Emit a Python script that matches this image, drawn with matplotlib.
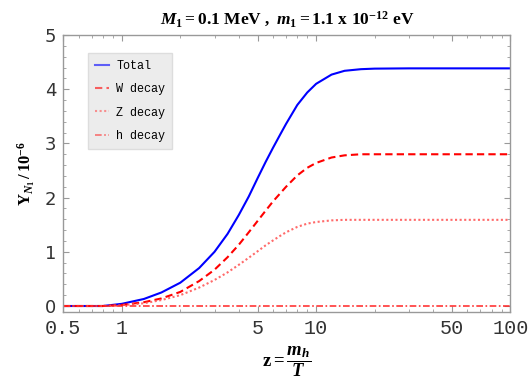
import numpy as np
import matplotlib
matplotlib.use("Agg")
import matplotlib.pyplot as plt
from matplotlib.ticker import FixedLocator, LogLocator, MultipleLocator, NullFormatter

# === DONNÉES ===
z = [0.5, 0.8, 1.0, 1.3, 1.6, 2.0, 2.5, 3.0, 3.5, 4.0, 4.5, 5.0, 5.5,
     6.0, 6.5, 7.0, 8.0, 9.0, 10, 12, 14, 17, 20, 30, 50, 100]
y_total = [0.0, 0.0, 0.04, 0.13, 0.25, 0.43, 0.70, 1.00, 1.33, 1.68, 2.02, 2.36, 2.66,
           2.92, 3.15, 3.36, 3.71, 3.94, 4.10, 4.27, 4.34, 4.37, 4.38, 4.385, 4.385, 4.385]
y_W = [0.0, 0.0, 0.02, 0.07, 0.14, 0.26, 0.46, 0.67, 0.90, 1.13, 1.36, 1.57, 1.76,
       1.93, 2.07, 2.20, 2.41, 2.55, 2.64, 2.74, 2.78, 2.80, 2.80, 2.80, 2.80, 2.80]
y_Z = [0.0, 0.0, 0.015, 0.05, 0.11, 0.20, 0.34, 0.48, 0.62, 0.76, 0.89, 1.01, 1.12,
       1.21, 1.29, 1.36, 1.46, 1.52, 1.55, 1.58, 1.59, 1.59, 1.59, 1.59, 1.59, 1.59]
y_h = [0.003] * len(z)

xticks = [0.5, 1, 5, 10, 50, 100]
xtick_labels = ["0.5", "1", "5", "10", "50", "100"]

# === STYLE ===
plt.rcParams["mathtext.fontset"] = "custom"
plt.rcParams["mathtext.rm"] = "Liberation Serif:bold"
plt.rcParams["mathtext.it"] = "Liberation Serif:italic:bold"
plt.rcParams["mathtext.bf"] = "Liberation Serif:bold"

fig = plt.figure(figsize=(5.3, 3.85), dpi=100)
ax = fig.add_axes([0.1194, 0.1904, 0.9632 - 0.1194, 0.909 - 0.1904])

ax.plot(z, y_total, color="#0000ff", lw=1.5, label="Total")
ax.plot(z, y_W, color="#ff0000", lw=1.5, ls=(0, (3.5, 2)), label="W decay")
ax.plot(z, y_Z, color="#ff5050", lw=1.5, ls=(0, (1, 1.2)), alpha=0.85, label="Z decay")
ax.plot(z, y_h, color="#ff2020", lw=1.2, ls=(0, (4, 1.5, 1, 1.5)), alpha=0.9, label="h decay")

ax.set_xscale("log")
ax.set_xlim(0.5, 100)
ax.set_ylim(-0.105, 5)

ax.xaxis.set_major_locator(FixedLocator(xticks))
ax.set_xticklabels(xtick_labels, family="Liberation Mono", fontsize=14.5, color="#333333")
ax.xaxis.set_minor_locator(LogLocator(base=10, subs=np.arange(2, 10)))
ax.xaxis.set_minor_formatter(NullFormatter())
ax.yaxis.set_major_locator(MultipleLocator(1))
ax.yaxis.set_minor_locator(MultipleLocator(0.2))
for lab in ax.get_yticklabels():
    lab.set_family("DejaVu Sans")
    lab.set_fontsize(13)
    lab.set_color("#333333")

ax.tick_params(which="both", direction="in", top=True, right=True, color="#999999")
ax.tick_params(which="major", length=4, width=0.8, pad=5)
ax.tick_params(which="minor", length=2, width=0.6)
for s in ax.spines.values():
    s.set_color("#999999")
    s.set_linewidth(1.0)

ax.set_title(r"$M_1 = \mathrm{0.1\ MeV\ ,}\ m_1 = \mathrm{1.1\ x\ 10^{-12}\ eV}$",
             fontsize=12.5, pad=8)
ax.set_ylabel(r"$\mathrm{Y}_{N_1}\,/\,\mathrm{10^{-6}}$", fontsize=12, labelpad=6)
ax.set_xlabel(r"$\mathrm{z} = \dfrac{m_h}{T}$", fontsize=13.5, labelpad=5)

leg = ax.legend(loc="upper left", bbox_to_anchor=(0.055, 0.935), borderaxespad=0,
                prop={"family": "Liberation Mono", "size": 8.5},
                frameon=True, fancybox=False, handlelength=1.2, handletextpad=0.6,
                labelspacing=0.95, borderpad=0.6)
leg.get_frame().set_facecolor("#ececec")
leg.get_frame().set_edgecolor("#dddddd")
leg.get_frame().set_alpha(1)
for h in leg.get_lines():
    h.set_alpha(0.6)

fig.savefig("out.png", dpi=100)
